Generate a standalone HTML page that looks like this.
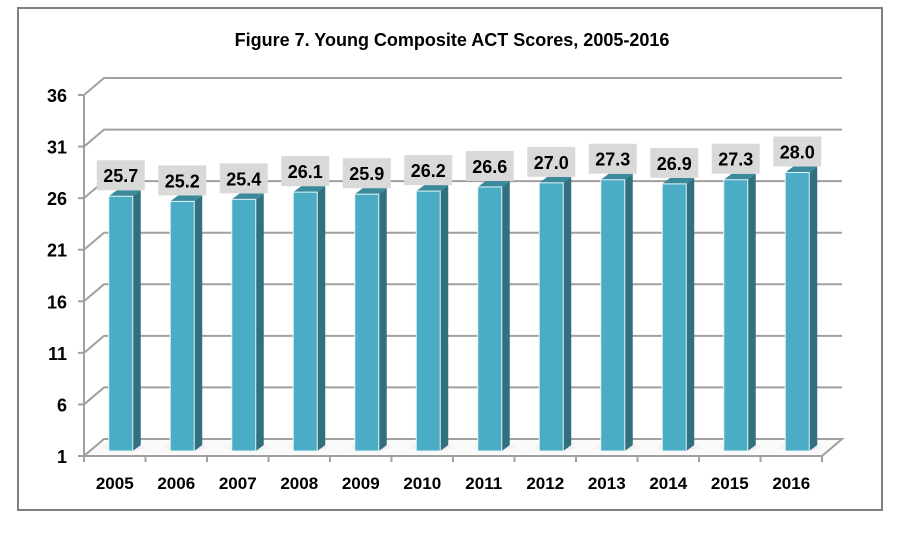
<!DOCTYPE html>
<html><head><meta charset="utf-8"><style>
html,body{margin:0;padding:0;background:#fff;}
svg text{font-family:"Liberation Sans",Calibri,sans-serif;font-weight:bold;fill:#000;}
</style></head><body>
<svg id="chart" width="903" height="537" xmlns="http://www.w3.org/2000/svg">
<defs>
<radialGradient id="shadow" cx="50%" cy="50%" r="50%">
<stop offset="0%" stop-color="#b5b5b5"/><stop offset="100%" stop-color="#f4f4f4" stop-opacity="0"/>
</radialGradient>
</defs>
<rect x="18" y="8" width="864" height="502" fill="#fff" stroke="#808080" stroke-width="2"/>
<text x="452" y="46" text-anchor="middle" font-size="18">Figure 7. Young Composite ACT Scores, 2005-2016</text>
<g id="grid"></g><g id="floor"></g><g id="bars"></g><g id="axes"></g>
</svg>
<script>
const categories = ["2005","2006","2007","2008","2009","2010","2011","2012","2013","2014","2015","2016"];
const values = [25.7,25.2,25.4,26.1,25.9,26.2,26.6,27.0,27.3,26.9,27.3,28.0];
const yTicks = [1,6,11,16,21,26,31,36];
const labels = ["25.7","25.2","25.4","26.1","25.9","26.2","26.6","27.0","27.3","26.9","27.3","28.0"];

const NS="http://www.w3.org/2000/svg";
const x0=84,x1=822,DX=20,DY=-17;
function y(v){return 456-(v-1)*(361/35);}
function cx(i){return x0+(i+0.5)*(x1-x0)/categories.length;}
function mk(tag,attrs,parent){const e=document.createElementNS(NS,tag);for(const k in attrs)e.setAttribute(k,attrs[k]);parent.appendChild(e);return e;}
const grid=document.getElementById('grid'),floor=document.getElementById('floor'),bars=document.getElementById('bars'),axes=document.getElementById('axes');
const gs={stroke:"#a0a0a0","stroke-width":2,fill:"none"};
yTicks.forEach(t=>{
  const yy=y(t);
  const g=mk('polyline',Object.assign({points:`${x0},${yy} ${x0+DX},${yy+DY} ${x1+DX},${yy+DY}`},gs),grid);
  
  
  const tk=mk('line',Object.assign({x1:x0-6,y1:yy,x2:x0,y2:yy},gs),axes);
  
  
  const tx=mk('text',{x:67,y:yy+7,"text-anchor":"end","font-size":18},axes);
  tx.textContent=t;
  
  
});
const ax=mk('line',Object.assign({x1:x0,y1:y(36),x2:x0,y2:y(1)},gs),axes);


const fl=mk('polygon',{points:`${x0},456 ${x0+DX},439 ${x1+DX},439 ${x1},456`,fill:"#fafafa",stroke:"#a0a0a0","stroke-width":2},floor);


const xa=mk('line',Object.assign({x1:x0,y1:456,x2:x1,y2:456},gs),axes);


for(let i=0;i<=categories.length;i++){
  const xx=x0+i*(x1-x0)/categories.length;
  const t=mk('line',Object.assign({x1:xx,y1:456,x2:xx,y2:462},gs),axes);
  
  
}
categories.forEach((c,i)=>{
  const c0=cx(i)+6, w=24, bx=c0-w/2, top=y(values[i])-5, base=451;
  const sh=mk('ellipse',{cx:c0+4,cy:447,rx:26,ry:5,fill:"url(#shadow)"},floor);
  
  
  const g=mk('g',{},bars);
  
  
  mk('polygon',{points:`${bx+w},${top} ${bx+w+8},${top-6} ${bx+w+8},${base-6} ${bx+w},${base}`,fill:"#31707f"},g);
  mk('polygon',{points:`${bx},${top} ${bx+8},${top-6} ${bx+w+8},${top-6} ${bx+w},${top}`,fill:"#3a8a9c"},g);
  mk('rect',{x:bx,y:top,width:w,height:base-top,fill:"#4bacc6",stroke:"#e6f3f7","stroke-width":1},g);
  const lb=mk('g',{},bars);
  
  
  mk('rect',{x:c0-24,y:top-36,width:48,height:30,fill:"#d9d9d9"},lb);
  const t=mk('text',{x:c0,y:top-14,"text-anchor":"middle","font-size":18},lb);
  t.textContent=labels[i];
  const xl=mk('text',{x:cx(i),y:489,"text-anchor":"middle","font-size":17},axes);
  xl.textContent=c;
  
  
});
</script>
</body></html>
